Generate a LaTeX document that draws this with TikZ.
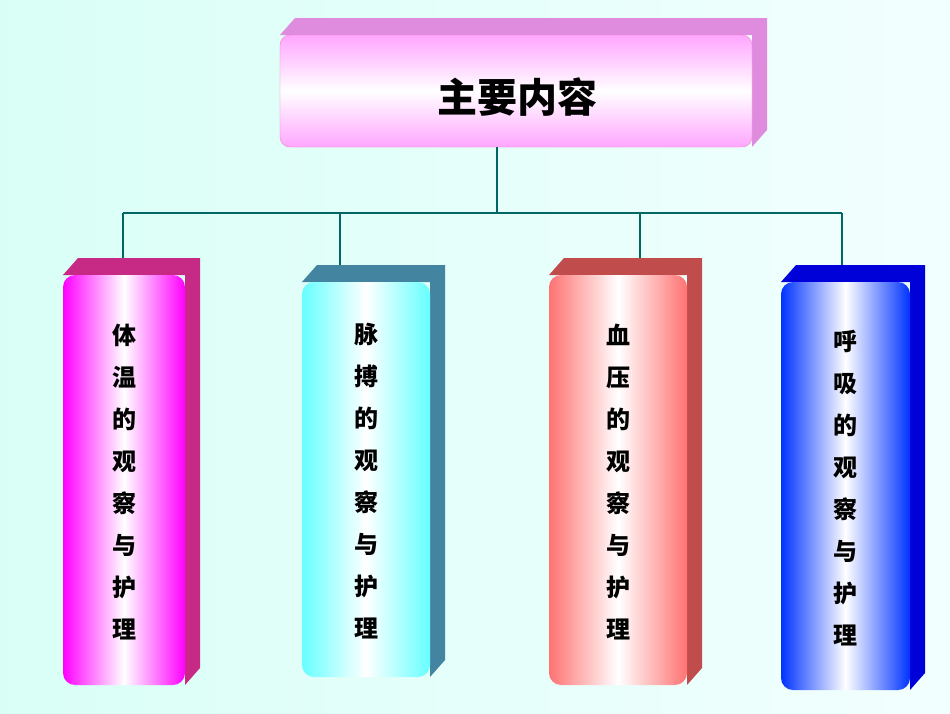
\documentclass[tikz,border=0pt]{standalone}
\usepackage{fontspec}
\newfontfamily\cjk{Noto Sans CJK SC}
\colorlet{cA}{magenta}
\colorlet{cB}{cyan!60}
\colorlet{cC}{red!55}
\colorlet{cD}{blue!80!cyan}
\colorlet{dA}{magenta!80!black}
\colorlet{dB}{cyan!60!black}
\colorlet{dC}{red!65!black!70}
\colorlet{dD}{blue!85!black}
\begin{document}
\begin{tikzpicture}[x=1pt,y=-1pt,
  conn/.style={draw=teal!80!black,line width=2.2pt},
  lbl/.style={font=\cjk\bfseries\fontsize{24}{26}\selectfont,align=center,text=black}]
\useasboundingbox (0,0) rectangle (950,713);
\shade[left color=green!25!cyan!15,right color=cyan!5] (0,0) rectangle (950,713);
% top box
\fill[violet!55!magenta!45] (280,35) -- (295,18) -- (767,18) -- (767,130) -- (752,147) -- (752,35) -- cycle;
\shade[rounded corners=10pt,top color=magenta!35,bottom color=magenta!35,middle color=white,draw=magenta!50] (280,35) rectangle (752,147);
\node[lbl,font=\cjk\bfseries\fontsize{40}{42}\selectfont] (top) at (517,97) {主要内容};
% connectors
\coordinate (h) at (497,213);
\coordinate (l) at (123,213);
\coordinate (r) at (842,213);
\coordinate (t) at (497,147);
\draw[conn] (t) -- (h);
\draw[conn] (l) -- (r);
\foreach \x/\y/\n in {123/262/a,340/270/b,640/262/c,842/268/d}{
  \coordinate (\n) at (\x,\y);
  \draw[conn] (\x,213) -- (\n);}
% columns
\newcommand\column[7]{%
  \fill[#6] (#1,#2) -- ({#1+15},{#2-17}) -- ({#3+15},{#2-17}) -- ({#3+15},{#4-17}) -- (#3,#4) -- (#3,#2) -- cycle;
  \shade[rounded corners=12pt,left color=#5,right color=#5,middle color=white] (#1,#2) rectangle (#3,#4);
  \node[lbl] at ({(#1+#3)/2},{(#2+#4)/2+2}) {#7};}
\column{63}{275}{185}{685}{cA}{dA}{体\\[16pt]温\\[16pt]的\\[16pt]观\\[16pt]察\\[16pt]与\\[16pt]护\\[16pt]理}
\column{302}{282}{430}{677}{cB}{dB}{脉\\[16pt]搏\\[16pt]的\\[16pt]观\\[16pt]察\\[16pt]与\\[16pt]护\\[16pt]理}
\column{549}{275}{687}{685}{cC}{dC}{血\\[16pt]压\\[16pt]的\\[16pt]观\\[16pt]察\\[16pt]与\\[16pt]护\\[16pt]理}
\column{781}{282}{910}{690}{cD}{dD}{呼\\[16pt]吸\\[16pt]的\\[16pt]观\\[16pt]察\\[16pt]与\\[16pt]护\\[16pt]理}
\end{tikzpicture}
\end{document}
